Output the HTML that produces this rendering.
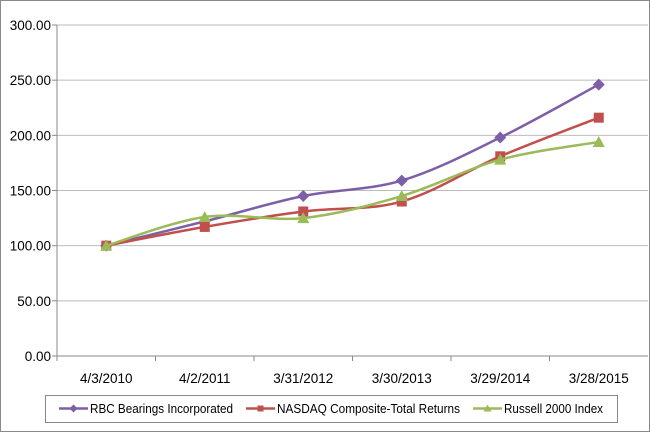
<!DOCTYPE html>
<html><head><meta charset="utf-8"><style>
body{margin:0;background:#fff;}
svg{display:block;font-family:"Liberation Sans",sans-serif;}
</style></head><body>
<svg id="chart" width="650" height="432" viewBox="0 0 650 432">
<rect x="0.5" y="0.5" width="649" height="431" fill="#fff" stroke="#888"/>
<g id="grid"></g><g id="axes"></g><g id="series"></g><g id="legend"></g>
</svg>
<script>
const categories=["4/3/2010","4/2/2011","3/31/2012","3/30/2013","3/29/2014","3/28/2015"];
const rbcValues=[100,122,145,159,198,246];
const nasdaqValues=[100,117,131,140,181,216];
const russellValues=[100,126,125,145,178,194];
const yTicks=[0,50,100,150,200,250,300];
const seriesNames=["RBC Bearings Incorporated","NASDAQ Composite-Total Returns","Russell 2000 Index"];
const NS="http://www.w3.org/2000/svg";
const L=57,R=648,T=25,B=356;
const x=i=>L+(R-L)/categories.length*(i+0.5);
const y=v=>B-(B-T)*v/300;
function mk(t,a,p){const e=document.createElementNS(NS,t);for(const k in a)e.setAttribute(k,a[k]);p.appendChild(e);return e;}
const grid=document.getElementById('grid'),axes=document.getElementById('axes'),ser=document.getElementById('series'),leg=document.getElementById('legend');
yTicks.forEach(v=>{
 const g=mk('line',{x1:L,x2:R,y1:y(v),y2:y(v),stroke:v===0?'#888':'#bbb','stroke-width':1},grid);
 
 
 const tx=mk('line',{x1:L-5,x2:L,y1:y(v),y2:y(v),stroke:'#888'},axes);
 
 
 const t=mk('text',{x:L-6,y:y(v)+5,'text-anchor':'end','font-size':13.5,fill:'#000'},axes);
 t.textContent=v.toFixed(2);
 
 
});
const ya=mk('line',{x1:L,x2:L,y1:T,y2:B,stroke:'#888'},axes);


categories.forEach((c,i)=>{
 const tk=mk('line',{x1:L+(R-L)/6*i,x2:L+(R-L)/6*i,y1:B,y2:B+5,stroke:'#888'},axes);
 
 
 const t=mk('text',{x:x(i),y:B+27,'text-anchor':'middle','font-size':13.5,fill:'#000'},axes);
 t.textContent=c;
 
 
});
function smooth(pts){let d=`M${pts[0][0]},${pts[0][1]}`;for(let i=0;i<pts.length-1;i++){const p0=pts[Math.max(i-1,0)],p1=pts[i],p2=pts[i+1],p3=pts[Math.min(i+2,pts.length-1)];const c1=[p1[0]+(p2[0]-p0[0])/6,p1[1]+(p2[1]-p0[1])/6],c2=[p2[0]-(p3[0]-p1[0])/6,p2[1]-(p3[1]-p1[1])/6];d+=` C${c1[0]},${c1[1]} ${c2[0]},${c2[1]} ${p2[0]},${p2[1]}`;}return d;}
function marker(shape,cx,cy,col,p,s){
 s=s||6;
 if(shape==='d')return mk('polygon',{points:`${cx},${cy-s} ${cx+s},${cy} ${cx},${cy+s} ${cx-s},${cy}`,fill:col},p);
 if(shape==='s')return mk('rect',{x:cx-s+1,y:cy-s+1,width:2*s-2,height:2*s-2,fill:col},p);
 return mk('polygon',{points:`${cx},${cy-s} ${cx+s},${cy+s-1} ${cx-s},${cy+s-1}`,fill:col},p);
}
const defs=[[rbcValues,'#7D5FA8','d','rbc'],[nasdaqValues,'#C0504D','s','nasdaq'],[russellValues,'#9BBB59','t','russell']];
defs.forEach(([vals,col,sh,nm])=>{
 const pts=vals.map((v,i)=>[x(i),y(v)]);
 const p=mk('path',{d:smooth(pts),fill:'none',stroke:col,'stroke-width':2.5},ser);
 
 
 pts.forEach(pt=>{const m=marker(sh,pt[0],pt[1],col,ser);
  
  });
});
const lb=mk('rect',{x:45.5,y:395.5,width:572,height:27,fill:'#fff',stroke:'#888'},leg);


const lx=[59,246,473];
const tw=[143,183,99];
defs.forEach(([v,col,sh,nm],i)=>{
 const g=mk('g',{},leg);
 
 
 mk('line',{x1:lx[i],x2:lx[i]+29,y1:408.5,y2:408.5,stroke:col,'stroke-width':2.5},g);
 marker(sh,lx[i]+14.5,408.5,col,g,4);
 const t=mk('text',{x:lx[i]+31,y:413,'font-size':13,fill:'#000',textLength:tw[i],lengthAdjust:'spacingAndGlyphs'},g);
 t.textContent=seriesNames[i];
});
</script>
</body></html>
